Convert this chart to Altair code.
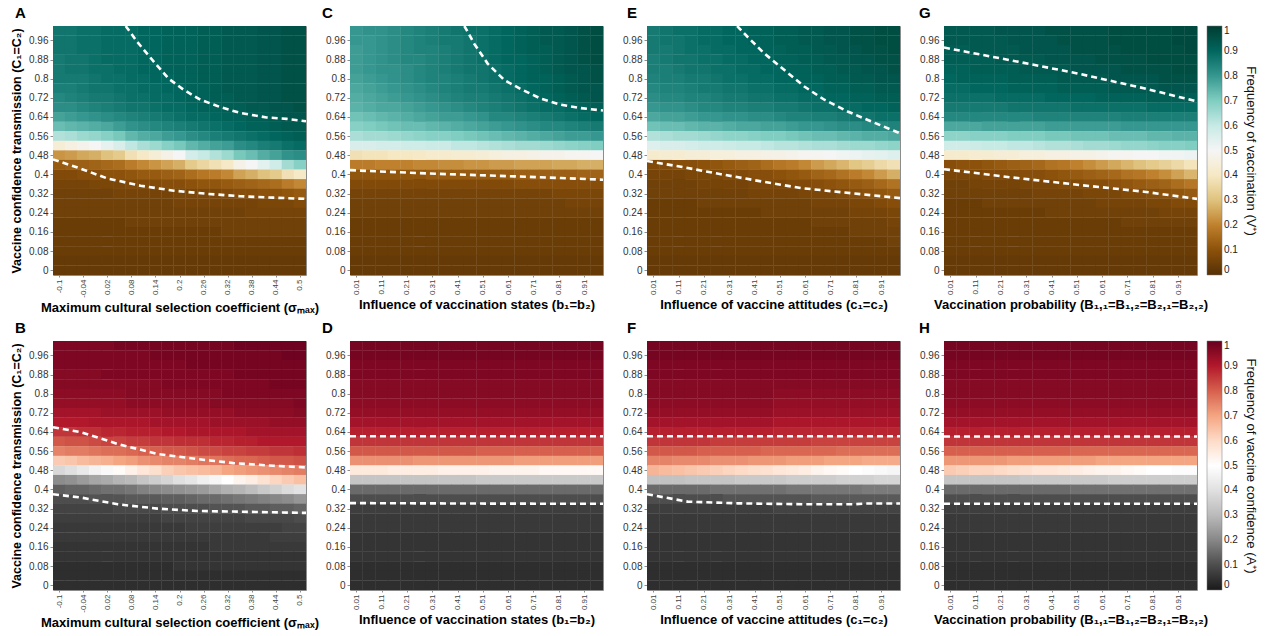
import altair as alt
import pandas as pd

FONT = "Liberation Sans"

# ---------------- grid categories ----------------
Y_CELLS = [1.0, 0.96, 0.92, 0.88, 0.84, 0.8, 0.76, 0.72, 0.68, 0.64, 0.6, 0.56, 0.52,
           0.48, 0.44, 0.4, 0.36, 0.32, 0.28, 0.24, 0.2, 0.16, 0.12, 0.08, 0.04, 0.0]
SIGMA_CELLS = [-0.1, -0.07, -0.04, -0.01, 0.02, 0.05, 0.08, 0.11, 0.14, 0.17, 0.2,
               0.23, 0.26, 0.29, 0.32, 0.35, 0.38, 0.41, 0.44, 0.47, 0.5]
UNIT_CELLS = [0.01, 0.06, 0.11, 0.16, 0.21, 0.26, 0.31, 0.36, 0.41, 0.46,
              0.51, 0.56, 0.61, 0.66, 0.71, 0.76, 0.81, 0.86, 0.91, 0.96]

Y_TICKS = [0, 0.08, 0.16, 0.24, 0.32, 0.4, 0.48, 0.56, 0.64, 0.72, 0.8, 0.88, 0.96]
SIGMA_TICKS = [-0.1, -0.04, 0.02, 0.08, 0.14, 0.2, 0.26, 0.32, 0.38, 0.44, 0.5]
UNIT_TICKS = [0.01, 0.11, 0.21, 0.31, 0.41, 0.51, 0.61, 0.71, 0.81, 0.91]
LEGEND_TICKS = [0, 0.1, 0.2, 0.3, 0.4, 0.5, 0.6, 0.7, 0.8, 0.9, 1]

# colour maps (brown-white-teal and grey-white-red), one colour per legend tick
BRBG = ["#543005", "#8c510a", "#bf812d", "#dfc27d", "#f6e8c3", "#f5f5f5",
        "#c7eae5", "#80cdc1", "#35978f", "#01665e", "#003c30"]
GYRD = ["#1a1a1a", "#4d4d4d", "#878787", "#bababa", "#e0e0e0", "#ffffff",
        "#fddbc7", "#f4a582", "#d6604d", "#b2182b", "#67001f"]

# ---------------- heatmap values (percent), rows from y=1.0 down to y=0 ----------------
V_A = [
    [87, 87, 88, 88, 89, 89, 89, 90, 90, 91, 91, 91, 92, 92, 93, 93, 93, 94, 94, 95, 95],
    [87, 87, 88, 88, 89, 89, 89, 90, 90, 91, 91, 91, 92, 92, 93, 93, 93, 94, 94, 95, 95],
    [87, 87, 88, 88, 89, 89, 89, 90, 90, 91, 91, 91, 92, 92, 93, 93, 93, 94, 94, 95, 95],
    [86, 87, 87, 88, 89, 89, 89, 90, 90, 91, 91, 91, 92, 92, 93, 93, 93, 94, 94, 95, 95],
    [86, 87, 87, 88, 88, 89, 89, 90, 90, 91, 91, 91, 92, 92, 93, 93, 93, 94, 94, 95, 95],
    [86, 86, 86, 87, 88, 88, 89, 89, 90, 90, 91, 91, 92, 92, 93, 93, 93, 94, 94, 95, 95],
    [85, 85, 86, 87, 87, 88, 88, 89, 89, 90, 90, 91, 91, 92, 93, 93, 93, 94, 94, 95, 95],
    [83, 84, 85, 86, 86, 87, 88, 88, 89, 89, 90, 91, 91, 92, 92, 93, 93, 94, 94, 95, 95],
    [82, 82, 83, 84, 85, 86, 87, 87, 88, 89, 89, 90, 91, 91, 92, 92, 93, 93, 94, 94, 95],
    [78, 79, 80, 81, 82, 83, 84, 85, 86, 87, 88, 89, 89, 90, 91, 91, 92, 92, 93, 94, 94],
    [73, 74, 75, 76, 77, 79, 81, 82, 83, 84, 85, 86, 87, 88, 89, 90, 91, 91, 92, 93, 93],
    [63, 64, 66, 67, 69, 71, 74, 76, 77, 79, 80, 82, 83, 85, 86, 87, 88, 89, 90, 91, 92],
    [44, 46, 48, 50, 53, 56, 61, 64, 66, 69, 71, 74, 76, 78, 79, 82, 83, 85, 86, 88, 89],
    [23, 24, 26, 27, 30, 32, 38, 41, 44, 47, 50, 57, 60, 63, 66, 71, 73, 76, 78, 81, 82],
    [12, 13, 13, 14, 15, 16, 19, 21, 23, 25, 27, 32, 35, 38, 41, 47, 50, 54, 58, 65, 69],
    [8, 8, 9, 9, 10, 10, 11, 12, 12, 13, 14, 16, 18, 19, 21, 25, 27, 30, 32, 38, 41],
    [6, 6, 6, 7, 7, 7, 8, 8, 8, 9, 9, 10, 11, 11, 12, 13, 14, 15, 16, 19, 21],
    [5, 5, 5, 5, 5, 6, 6, 6, 6, 6, 7, 7, 7, 7, 8, 9, 9, 10, 10, 11, 12],
    [5, 5, 5, 5, 5, 5, 5, 5, 5, 5, 6, 6, 6, 6, 6, 6, 6, 7, 7, 7, 8],
    [5, 5, 5, 5, 5, 5, 5, 5, 5, 5, 5, 5, 5, 5, 5, 5, 6, 6, 6, 6, 6],
    [4, 4, 4, 4, 4, 4, 5, 5, 5, 5, 5, 5, 5, 5, 5, 5, 5, 5, 5, 5, 5],
    [4, 4, 4, 4, 4, 4, 4, 4, 4, 4, 4, 4, 4, 4, 5, 5, 5, 5, 5, 5, 5],
    [4] * 21,
    [4] * 21,
    [3] * 21,
    [3] * 21,
]

V_C = [
    [80, 81, 81, 82, 83, 84, 85, 86, 87, 88, 88, 89, 90, 91, 92, 93, 93, 94, 95, 96],
    [80, 80, 81, 82, 83, 84, 85, 86, 86, 87, 88, 89, 90, 91, 92, 93, 93, 94, 95, 96],
    [79, 80, 81, 82, 83, 84, 84, 85, 86, 87, 88, 89, 90, 91, 92, 92, 93, 94, 95, 96],
    [79, 80, 81, 82, 83, 83, 84, 85, 86, 87, 88, 89, 90, 90, 91, 92, 93, 94, 95, 96],
    [79, 80, 81, 81, 82, 83, 84, 85, 86, 87, 87, 88, 89, 90, 91, 92, 93, 94, 94, 95],
    [78, 79, 80, 81, 82, 83, 84, 84, 85, 86, 87, 88, 89, 90, 91, 91, 92, 93, 94, 95],
    [77, 78, 79, 80, 81, 82, 83, 84, 85, 86, 86, 87, 88, 89, 90, 91, 92, 93, 94, 94],
    [76, 77, 78, 79, 80, 81, 82, 83, 84, 85, 85, 86, 87, 88, 89, 90, 91, 92, 93, 94],
    [75, 76, 77, 77, 78, 79, 80, 81, 82, 83, 84, 85, 86, 87, 88, 89, 89, 90, 91, 92],
    [72, 73, 74, 75, 76, 77, 78, 79, 79, 80, 81, 83, 83, 84, 85, 86, 87, 88, 89, 90],
    [69, 70, 71, 72, 73, 73, 74, 75, 76, 77, 78, 79, 80, 81, 82, 83, 83, 84, 85, 86],
    [64, 65, 65, 66, 67, 68, 69, 69, 70, 71, 72, 73, 74, 75, 76, 77, 78, 79, 79, 80],
    [56, 56, 57, 57, 58, 58, 59, 59, 61, 61, 62, 63, 64, 65, 65, 66, 67, 68, 69, 70],
    [38, 39, 39, 40, 40, 41, 42, 42, 43, 43, 44, 45, 46, 46, 47, 48, 48, 49, 49, 50],
    [19, 19, 20, 20, 20, 21, 21, 22, 22, 23, 23, 24, 24, 25, 25, 25, 26, 26, 27, 27],
    [11, 11, 11, 11, 11, 11, 12, 12, 12, 12, 12, 12, 12, 13, 13, 13, 13, 13, 14, 14],
    [8, 8, 8, 8, 8, 8, 8, 8, 8, 8, 8, 8, 8, 9, 9, 9, 9, 9, 9, 9],
    [6, 6, 6, 6, 6, 6, 6, 6, 6, 6, 6, 6, 6, 6, 6, 6, 7, 7, 7, 7],
    [5, 5, 5, 5, 5, 5, 5, 5, 5, 5, 5, 5, 5, 5, 5, 5, 5, 6, 6, 6],
    [5] * 20,
    [4] * 20,
    [4] * 20,
    [4] * 20,
    [4] * 20,
    [3] * 20,
    [3] * 20,
]

V_E = [
    [86, 87, 88, 88, 89, 89, 90, 90, 91, 91, 92, 92, 93, 93, 94, 94, 95, 95, 96, 96],
    [86, 87, 87, 88, 89, 89, 90, 90, 91, 91, 92, 92, 93, 93, 94, 94, 95, 95, 96, 96],
    [86, 86, 87, 88, 88, 89, 89, 90, 90, 91, 91, 92, 92, 93, 93, 94, 94, 95, 95, 96],
    [85, 86, 87, 87, 88, 88, 89, 89, 90, 90, 91, 91, 92, 92, 93, 93, 94, 94, 95, 95],
    [85, 85, 86, 87, 87, 88, 88, 89, 89, 90, 90, 91, 91, 92, 92, 93, 93, 94, 94, 95],
    [84, 85, 85, 86, 86, 87, 88, 88, 89, 89, 90, 90, 91, 91, 92, 92, 93, 93, 94, 94],
    [83, 84, 84, 85, 86, 86, 87, 87, 88, 88, 89, 89, 90, 90, 91, 91, 92, 92, 93, 93],
    [82, 83, 83, 84, 84, 85, 86, 86, 87, 87, 88, 88, 89, 89, 90, 90, 91, 91, 92, 92],
    [80, 81, 81, 82, 83, 83, 84, 84, 85, 85, 86, 86, 87, 88, 88, 89, 89, 90, 90, 91],
    [77, 78, 78, 79, 80, 80, 81, 81, 82, 82, 83, 84, 84, 85, 85, 86, 87, 87, 88, 88],
    [72, 73, 73, 74, 75, 75, 76, 77, 77, 78, 78, 79, 80, 80, 81, 82, 82, 83, 83, 84],
    [63, 64, 65, 65, 66, 67, 68, 68, 69, 70, 70, 71, 72, 73, 73, 74, 75, 76, 76, 77],
    [55, 56, 56, 57, 58, 58, 59, 60, 60, 61, 62, 62, 63, 64, 64, 65, 66, 66, 67, 68],
    [42, 43, 43, 44, 44, 45, 45, 46, 46, 47, 47, 48, 49, 49, 50, 51, 52, 53, 54, 55],
    [8, 8, 9, 9, 10, 11, 12, 13, 14, 16, 18, 19, 21, 24, 26, 28, 31, 33, 36, 38],
    [6, 6, 6, 7, 7, 7, 8, 8, 9, 9, 10, 11, 12, 14, 15, 17, 19, 21, 24, 27],
    [5, 5, 5, 5, 6, 6, 6, 6, 7, 7, 7, 8, 8, 9, 10, 11, 12, 13, 15, 17],
    [5, 5, 5, 5, 5, 5, 5, 5, 6, 6, 6, 6, 7, 7, 7, 8, 9, 10, 11, 12],
    [4, 4, 4, 4, 5, 5, 5, 5, 5, 5, 5, 5, 5, 6, 6, 6, 7, 7, 8, 9],
    [4, 4, 4, 4, 4, 4, 4, 4, 4, 5, 5, 5, 5, 5, 5, 5, 6, 6, 6, 7],
    [4, 4, 4, 4, 4, 4, 4, 4, 4, 4, 4, 4, 4, 5, 5, 5, 5, 5, 5, 6],
    [4, 4, 4, 4, 4, 4, 4, 4, 4, 4, 4, 4, 4, 4, 4, 4, 5, 5, 5, 5],
    [4, 4, 4, 4, 4, 4, 4, 4, 4, 4, 4, 4, 4, 4, 4, 4, 4, 4, 4, 5],
    [4] * 20,
    [3] * 20,
    [3] * 20,
]

V_G = [
    [93, 93, 93, 93, 94, 94, 94, 94, 95, 95, 95, 95, 95, 96, 96, 96, 96, 96, 97, 97],
    [93, 93, 93, 93, 93, 94, 94, 94, 94, 95, 95, 95, 95, 96, 96, 96, 96, 96, 97, 97],
    [92, 92, 93, 93, 93, 93, 94, 94, 94, 94, 95, 95, 95, 95, 96, 96, 96, 96, 96, 97],
    [92, 92, 92, 92, 93, 93, 93, 93, 94, 94, 94, 94, 95, 95, 95, 95, 96, 96, 96, 96],
    [91, 91, 92, 92, 92, 92, 93, 93, 93, 93, 94, 94, 94, 94, 95, 95, 95, 95, 96, 96],
    [90, 91, 91, 91, 91, 92, 92, 92, 92, 93, 93, 93, 93, 94, 94, 94, 94, 95, 95, 95],
    [89, 89, 90, 90, 90, 91, 91, 91, 91, 92, 92, 92, 92, 93, 93, 93, 93, 94, 94, 94],
    [88, 88, 88, 88, 89, 89, 89, 89, 90, 90, 90, 90, 91, 91, 91, 91, 92, 92, 92, 92],
    [86, 86, 86, 86, 86, 87, 87, 87, 87, 87, 88, 88, 88, 88, 88, 88, 89, 89, 89, 89],
    [83, 83, 83, 83, 83, 83, 83, 84, 84, 84, 84, 84, 84, 84, 85, 85, 85, 85, 85, 85],
    [77, 77, 77, 78, 78, 78, 78, 78, 79, 79, 79, 79, 79, 79, 80, 80, 80, 80, 80, 80],
    [68, 68, 69, 69, 69, 70, 70, 70, 71, 71, 72, 72, 72, 73, 73, 73, 74, 74, 75, 75],
    [58, 58, 59, 60, 60, 61, 61, 62, 63, 63, 64, 65, 65, 66, 67, 67, 68, 69, 69, 70],
    [42, 42, 43, 43, 44, 44, 45, 45, 46, 46, 47, 47, 48, 49, 49, 50, 50, 51, 51, 52],
    [9, 10, 10, 11, 12, 13, 14, 15, 17, 18, 20, 22, 24, 26, 28, 30, 32, 34, 36, 39],
    [7, 7, 7, 8, 8, 8, 9, 9, 10, 11, 12, 13, 14, 15, 17, 18, 20, 22, 25, 28],
    [5, 5, 6, 6, 6, 6, 7, 7, 7, 8, 8, 9, 9, 10, 11, 12, 13, 14, 16, 18],
    [5, 5, 5, 5, 5, 5, 5, 6, 6, 6, 6, 7, 7, 7, 8, 8, 9, 10, 11, 12],
    [4, 4, 4, 5, 5, 5, 5, 5, 5, 5, 5, 5, 6, 6, 6, 6, 7, 7, 8, 8],
    [4, 4, 4, 4, 4, 4, 4, 4, 5, 5, 5, 5, 5, 5, 5, 5, 5, 6, 6, 6],
    [4, 4, 4, 4, 4, 4, 4, 4, 4, 4, 4, 4, 4, 4, 5, 5, 5, 5, 5, 5],
    [4] * 20,
    [4] * 20,
    [4] * 20,
    [3] * 20,
    [3] * 20,
]

A_B = [
    [97, 97, 97, 97, 97, 98, 98, 98, 98, 98, 98, 98, 98, 98, 98, 99, 99, 99, 99, 99, 99],
    [97, 97, 97, 97, 97, 97, 97, 97, 98, 98, 98, 98, 98, 98, 98, 98, 98, 98, 98, 99, 99],
    [97, 97, 97, 97, 97, 97, 97, 97, 97, 97, 97, 98, 98, 98, 98, 98, 98, 98, 98, 98, 98],
    [96, 96, 96, 96, 97, 97, 97, 97, 97, 97, 97, 97, 97, 97, 97, 98, 98, 98, 98, 98, 98],
    [96, 96, 96, 96, 96, 96, 96, 96, 96, 97, 97, 97, 97, 97, 97, 97, 97, 97, 98, 98, 98],
    [95, 95, 95, 95, 95, 95, 96, 96, 96, 96, 96, 96, 96, 96, 97, 97, 97, 97, 97, 97, 97],
    [94, 94, 94, 94, 94, 94, 95, 95, 95, 95, 95, 95, 95, 96, 96, 96, 96, 96, 96, 96, 97],
    [92, 92, 92, 92, 93, 93, 93, 93, 93, 94, 94, 94, 94, 94, 94, 95, 95, 95, 95, 95, 96],
    [90, 90, 90, 91, 91, 91, 91, 91, 92, 92, 92, 92, 92, 93, 93, 93, 93, 93, 94, 94, 94],
    [86, 86, 87, 87, 88, 88, 89, 89, 89, 90, 90, 91, 91, 91, 91, 91, 92, 92, 92, 92, 92],
    [81, 82, 82, 83, 84, 84, 85, 85, 86, 86, 87, 87, 87, 88, 88, 89, 89, 90, 90, 90, 90],
    [75, 76, 76, 77, 78, 78, 79, 80, 80, 81, 81, 82, 83, 83, 84, 84, 85, 85, 86, 86, 87],
    [63, 64, 66, 67, 68, 70, 71, 73, 74, 75, 75, 76, 77, 77, 78, 79, 79, 80, 81, 81, 82],
    [38, 40, 43, 46, 48, 51, 54, 57, 59, 62, 64, 65, 66, 67, 70, 71, 72, 73, 74, 75, 76],
    [21, 22, 24, 26, 27, 29, 30, 33, 35, 37, 40, 42, 45, 47, 50, 53, 55, 58, 61, 63, 65],
    [13, 14, 14, 15, 16, 16, 17, 19, 20, 21, 22, 23, 24, 26, 28, 29, 31, 34, 36, 39, 41],
    [10, 10, 10, 11, 11, 11, 12, 12, 12, 13, 13, 14, 15, 15, 16, 17, 18, 19, 20, 21, 23],
    [8, 8, 8, 8, 8, 9, 9, 9, 9, 10, 10, 10, 10, 11, 11, 11, 12, 12, 13, 13, 14],
    [7, 7, 7, 7, 7, 7, 7, 7, 7, 8, 8, 8, 8, 8, 8, 8, 9, 9, 9, 9, 10],
    [6, 6, 6, 6, 6, 6, 6, 6, 6, 6, 6, 7, 7, 7, 7, 7, 7, 7, 7, 8, 8],
    [6, 6, 6, 6, 6, 6, 6, 6, 6, 6, 6, 6, 6, 6, 6, 6, 6, 6, 7, 7, 7],
    [5, 5, 5, 5, 5, 5, 5, 5, 5, 5, 5, 5, 5, 6, 6, 6, 6, 6, 6, 6, 6],
    [5] * 21,
    [4, 4, 4, 4, 4, 4, 4, 4, 4, 4, 5, 5, 5, 5, 5, 5, 5, 5, 5, 5, 5],
    [4] * 21,
    [4] * 21,
]

A_D = [
    [98] * 20,
    [98] * 20,
    [97] * 20,
    [97] * 20,
    [96] * 20,
    [96] * 20,
    [95] * 20,
    [94] * 20,
    [92] * 20,
    [89] * 20,
    [86] * 20,
    [81, 81, 81, 81, 81, 81, 81, 81, 81, 81, 80, 80, 80, 80, 80, 80, 80, 80, 80, 80],
    [73, 73, 73, 73, 73, 72, 72, 72, 72, 72, 72, 72, 72, 71, 71, 71, 71, 71, 71, 71],
    [56, 56, 56, 55, 55, 55, 55, 54, 54, 54, 54, 53, 53, 53, 53, 52, 52, 52, 52, 52],
    [33, 33, 33, 33, 33, 33, 33, 33, 33, 33, 34, 34, 34, 34, 34, 34, 34, 34, 34, 34],
    [15] * 20,
    [10] * 20,
    [7] * 20,
    [6] * 20,
    [6] * 20,
    [5] * 20,
    [5] * 20,
    [5] * 20,
    [4] * 20,
    [4] * 20,
    [4] * 20,
]

A_F = [
    [98] * 20,
    [98] * 20,
    [97] * 20,
    [97] * 20,
    [96] * 20,
    [96, 96, 96, 96, 96, 96, 96, 96, 96, 96, 95, 95, 95, 95, 95, 95, 95, 95, 95, 95],
    [95, 95, 95, 95, 95, 95, 95, 95, 95, 95, 94, 94, 94, 94, 94, 94, 94, 94, 94, 94],
    [94, 94, 94, 94, 94, 94, 94, 94, 94, 94, 93, 93, 93, 93, 93, 93, 93, 93, 93, 93],
    [92, 92, 92, 92, 92, 92, 92, 92, 92, 92, 91, 91, 91, 91, 91, 91, 91, 91, 91, 91],
    [89, 89, 89, 89, 89, 89, 89, 89, 89, 89, 88, 88, 88, 88, 88, 88, 88, 88, 88, 88],
    [86, 86, 86, 86, 86, 85, 85, 85, 85, 85, 85, 85, 85, 84, 84, 84, 84, 84, 84, 84],
    [81, 81, 81, 81, 80, 80, 80, 80, 80, 79, 79, 79, 79, 79, 79, 78, 78, 78, 78, 78],
    [75, 75, 74, 74, 74, 73, 73, 73, 72, 72, 72, 71, 71, 71, 70, 70, 70, 69, 69, 69],
    [67, 66, 65, 64, 63, 62, 61, 60, 59, 58, 57, 56, 55, 53, 52, 51, 50, 49, 48, 47],
    [32, 32, 32, 33, 33, 33, 33, 34, 34, 34, 34, 35, 35, 35, 35, 36, 36, 36, 37, 37],
    [15, 15, 15, 15, 15, 16, 16, 16, 16, 16, 16, 17, 17, 17, 17, 17, 17, 18, 18, 18],
    [10, 10, 10, 10, 10, 10, 11, 11, 11, 11, 11, 11, 11, 12, 12, 12, 12, 12, 12, 12],
    [7, 7, 7, 7, 7, 7, 7, 7, 7, 7, 8, 8, 8, 8, 8, 8, 8, 8, 8, 8],
    [6] * 20,
    [6] * 20,
    [5] * 20,
    [5] * 20,
    [5] * 20,
    [4] * 20,
    [4] * 20,
    [4] * 20,
]

A_H = [
    [98] * 20,
    [98] * 20,
    [97] * 20,
    [97] * 20,
    [96] * 20,
    [96] * 20,
    [95] * 20,
    [94] * 20,
    [92] * 20,
    [89] * 20,
    [86] * 20,
    [80, 80, 80, 80, 80, 80, 80, 80, 80, 80, 79, 79, 79, 79, 79, 79, 79, 79, 79, 79],
    [72, 72, 72, 72, 72, 71, 71, 71, 71, 71, 71, 71, 70, 70, 70, 70, 70, 70, 70, 70],
    [63, 62, 61, 61, 60, 59, 58, 57, 57, 56, 55, 54, 53, 53, 52, 51, 50, 50, 49, 49],
    [33, 33, 33, 33, 33, 33, 34, 34, 34, 34, 34, 34, 34, 35, 35, 35, 35, 35, 35, 35],
    [15, 15, 15, 15, 15, 15, 15, 15, 15, 15, 16, 16, 16, 16, 16, 16, 16, 16, 16, 16],
    [10] * 20,
    [7] * 20,
    [6] * 20,
    [6] * 20,
    [5] * 20,
    [5] * 20,
    [5] * 20,
    [4] * 20,
    [4] * 20,
    [4] * 20,
]

# ---------------- dashed threshold curves (x list, y list) ----------------
A_UP_X = [0.066, 0.095, 0.140, 0.173, 0.211, 0.252, 0.302, 0.351, 0.417, 0.467, 0.515]
A_UP_Y = [1.02, 0.953, 0.863, 0.800, 0.753, 0.712, 0.681, 0.657, 0.638, 0.632, 0.622]
A_LO_X = [-0.115, -0.054, 0.021, 0.103, 0.186, 0.269, 0.351, 0.434, 0.515]
A_LO_Y = [0.463, 0.429, 0.383, 0.353, 0.332, 0.319, 0.309, 0.303, 0.298]
C_UP_X = [0.437, 0.476, 0.529, 0.595, 0.661, 0.740, 0.819, 0.898, 0.985]
C_UP_Y = [1.02, 0.946, 0.863, 0.794, 0.756, 0.716, 0.691, 0.677, 0.667]
C_LO_X = [-0.015, 0.134, 0.292, 0.463, 0.634, 0.819, 0.985]
C_LO_Y = [0.418, 0.411, 0.404, 0.398, 0.392, 0.385, 0.378]
E_UP_X = [0.341, 0.383, 0.449, 0.528, 0.607, 0.686, 0.778, 0.870, 0.985]
E_UP_Y = [1.02, 0.974, 0.905, 0.836, 0.767, 0.712, 0.663, 0.622, 0.572]
E_LO_X = [-0.015, 0.119, 0.277, 0.436, 0.594, 0.752, 0.883, 0.985]
E_LO_Y = [0.456, 0.432, 0.401, 0.371, 0.343, 0.326, 0.312, 0.301]
G_UP_X = [-0.015, 0.248, 0.512, 0.775, 0.985]
G_UP_Y = [0.930, 0.877, 0.822, 0.760, 0.705]
G_LO_X = [-0.015, 0.248, 0.512, 0.775, 0.985]
G_LO_Y = [0.422, 0.388, 0.357, 0.328, 0.298]
B_UP_X = [-0.115, -0.045, 0.046, 0.145, 0.244, 0.334, 0.433, 0.515]
B_UP_Y = [0.660, 0.639, 0.590, 0.548, 0.527, 0.510, 0.499, 0.492]
B_LO_X = [-0.115, -0.045, 0.046, 0.145, 0.244, 0.351, 0.515]
B_LO_Y = [0.380, 0.366, 0.338, 0.320, 0.310, 0.307, 0.302]
D_UP_X = [-0.015, 0.5, 0.985]
D_UP_Y = [0.622, 0.622, 0.622]
D_LO_X = [-0.015, 0.5, 0.985]
D_LO_Y = [0.343, 0.341, 0.340]
F_UP_X = [-0.015, 0.5, 0.985]
F_UP_Y = [0.622, 0.622, 0.622]
F_LO_X = [-0.015, 0.146, 0.343, 0.607, 0.804, 0.85, 0.985]
F_LO_Y = [0.380, 0.349, 0.342, 0.338, 0.338, 0.341, 0.341]
H_UP_X = [-0.015, 0.5, 0.985]
H_UP_Y = [0.621, 0.621, 0.621]
H_LO_X = [-0.015, 0.5, 0.985]
H_LO_Y = [0.340, 0.340, 0.340]

# ---------------- texts ----------------
Y_TITLE = "Vaccine confidence transmission (C\u2081=C\u2082)"
X_TITLES = [
    "Maximum cultural selection coefficient (\u03c3\u2098\u2090\u2093)",
    "Influence of vaccination states (b\u2081=b\u2082)",
    "Influence of vaccine attitudes (c\u2081=c\u2082)",
    "Vaccination probability (B\u2081,\u2081=B\u2081,\u2082=B\u2082,\u2081=B\u2082,\u2082)",
]
LEG_TOP = "Frequency of vaccination (V\u207a)"
LEG_BOT = "Frequency of vaccine confidence (A\u207a)"

PLOT_W = 253
PLOT_H = 249
LABEL_EXPR = "replace(format(datum.value, '.2~f'), '\u2212', '-')"


def build_cells(grid, xcells, half):
    if len(grid) != len(Y_CELLS):
        raise ValueError("grid has %d rows" % len(grid))
    recs = []
    for yv, row in zip(Y_CELLS, grid):
        if len(row) != len(xcells):
            raise ValueError("row %s has %d values" % (yv, len(row)))
        for xv, v in zip(xcells, row):
            recs.append({
                "x0": xv - half * 1.03, "x1": xv + half * 1.03,
                "y0": yv - 0.02 * 1.03, "y1": yv + 0.02 * 1.03,
                "v": v / 100.0,
            })
    return pd.DataFrame(recs)


def build_lines(curves):
    recs = []
    for s, (xs, ys) in enumerate(curves):
        for i, (xv, yv) in enumerate(zip(xs, ys)):
            recs.append({"x0": xv, "y0": yv, "seg": s, "i": i})
    return pd.DataFrame(recs)


def panel(grid, xcells, half, xdomain, xticks, xtitle, ytitle, curves, letter, dx, cscale, legend):
    cells = build_cells(grid, xcells, half)
    xs = alt.Scale(domain=xdomain, nice=False, zero=False)
    ys = alt.Scale(domain=[-0.02, 1.02], nice=False, zero=False)
    xaxis = alt.Axis(values=xticks, labelExpr=LABEL_EXPR, labelAngle=270, title=xtitle,
                     labelFontSize=8, labelColor="#444", tickSize=2, titlePadding=4,
                     titleFontSize=13)
    yaxis = alt.Axis(values=Y_TICKS, format=".2~f", title=ytitle)
    heat = alt.Chart(cells).mark_rect(clip=True, opacity=1, fillOpacity=1, strokeWidth=0).encode(
        x=alt.X("x0:Q", scale=xs, axis=xaxis),
        x2="x1",
        y=alt.Y("y0:Q", scale=ys, axis=yaxis),
        y2="y1",
        color=alt.Color("v:Q", scale=cscale, legend=legend),
    )
    lines = alt.Chart(build_lines(curves)).mark_line(
        color="white", strokeDash=[6, 4], strokeWidth=2.6, clip=True, opacity=1
    ).encode(
        x=alt.X("x0:Q", scale=xs, axis=xaxis),
        y=alt.Y("y0:Q", scale=ys, axis=yaxis),
        detail="seg:N",
        order="i:Q",
    )
    return alt.layer(heat, lines).properties(
        width=PLOT_W, height=PLOT_H,
        title=alt.TitleParams(letter, anchor="start", frame="group", dx=dx, offset=5),
    )


def make_legend(title):
    return alt.Legend(
        title=title, orient="right", direction="vertical", offset=10,
        gradientLength=PLOT_H, gradientThickness=15,
        gradientStrokeColor="#777", gradientStrokeWidth=0.5,
        values=LEGEND_TICKS, format=".1~f",
        labelFont=FONT, labelFontSize=10, labelColor="#222", labelOverlap=False,
        titleOrient="right", titleAnchor="middle", titleLimit=400,
        titleFont=FONT, titleFontSize=13, titleFontWeight="normal", titleColor="#111",
        titlePadding=6,
    )


top_scale = alt.Scale(domain=LEGEND_TICKS, range=BRBG, interpolate="rgb")
bot_scale = alt.Scale(domain=LEGEND_TICKS, range=GYRD, interpolate="rgb")

SIG_DOM = [-0.115, 0.515]
UNIT_DOM = [-0.015, 0.985]

pA = panel(V_A, SIGMA_CELLS, 0.015, SIG_DOM, SIGMA_TICKS, X_TITLES[0], Y_TITLE,
           [(A_UP_X, A_UP_Y), (A_LO_X, A_LO_Y)], "A", -38, top_scale, None)
pC = panel(V_C, UNIT_CELLS, 0.025, UNIT_DOM, UNIT_TICKS, X_TITLES[1], None,
           [(C_UP_X, C_UP_Y), (C_LO_X, C_LO_Y)], "C", -28, top_scale, None)
pE = panel(V_E, UNIT_CELLS, 0.025, UNIT_DOM, UNIT_TICKS, X_TITLES[2], None,
           [(E_UP_X, E_UP_Y), (E_LO_X, E_LO_Y)], "E", -20, top_scale, None)
pG = panel(V_G, UNIT_CELLS, 0.025, UNIT_DOM, UNIT_TICKS, X_TITLES[3], None,
           [(G_UP_X, G_UP_Y), (G_LO_X, G_LO_Y)], "G", -25, top_scale, make_legend(LEG_TOP))

pB = panel(A_B, SIGMA_CELLS, 0.015, SIG_DOM, SIGMA_TICKS, X_TITLES[0], Y_TITLE,
           [(B_UP_X, B_UP_Y), (B_LO_X, B_LO_Y)], "B", -38, bot_scale, None)
pD = panel(A_D, UNIT_CELLS, 0.025, UNIT_DOM, UNIT_TICKS, X_TITLES[1], None,
           [(D_UP_X, D_UP_Y), (D_LO_X, D_LO_Y)], "D", -28, bot_scale, None)
pF = panel(A_F, UNIT_CELLS, 0.025, UNIT_DOM, UNIT_TICKS, X_TITLES[2], None,
           [(F_UP_X, F_UP_Y), (F_LO_X, F_LO_Y)], "F", -20, bot_scale, None)
pH = panel(A_H, UNIT_CELLS, 0.025, UNIT_DOM, UNIT_TICKS, X_TITLES[3], None,
           [(H_UP_X, H_UP_Y), (H_LO_X, H_LO_Y)], "H", -25, bot_scale, make_legend(LEG_BOT))

chart = alt.concat(
    pA, pC, pE, pG, pB, pD, pF, pH,
    columns=4, spacing={"row": 66, "column": 44}, bounds="flush",
).resolve_scale(
    color="independent"
).properties(
    padding={"left": 10, "top": 5, "right": 4, "bottom": 4}
).configure_view(
    stroke="#8c8c8c", strokeWidth=1
).configure_axis(
    labelFont=FONT, labelFontSize=10, labelColor="#333",
    titleFont=FONT, titleFontSize=12.5, titleFontWeight="bold", titleColor="#000",
    tickColor="#8c8c8c", tickSize=3, domain=False, grid=False,
    labelPadding=2, titlePadding=5,
).configure_title(
    font=FONT, fontSize=15, fontWeight="bold", color="#000"
)

chart.save("out.html", embed_options={"renderer": "svg", "actions": False})
